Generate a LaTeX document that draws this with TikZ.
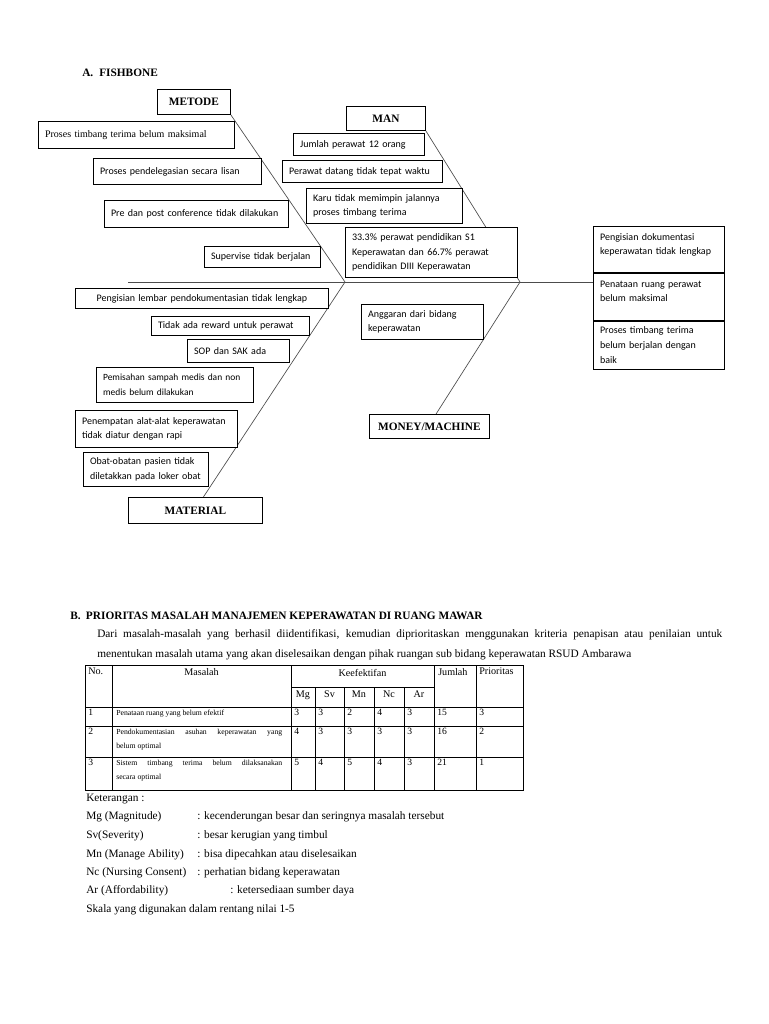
\documentclass[tikz,border=0pt]{standalone}
\usepackage{fontspec}
\setmainfont{Liberation Serif}
\newfontfamily\boxfont{Carlito}
\usetikzlibrary{positioning, backgrounds}
\newcommand\causefont{\boxfont\fontsize{7.5}{11}\selectfont}
\newcommand\liftlines{\\[-3pt]\mbox{}}

\begin{document}
\begin{tikzpicture}[x=0.75pt, y=-0.75pt,
    bone/.style={draw=black!70, line width=0.5pt},
    category/.style 2 args={draw, fill=white, line width=0.6pt, anchor=north west, inner sep=0pt,
        minimum width=#1*0.75pt, minimum height=#2*0.75pt, font=\bfseries\fontsize{8.5}{10}\selectfont},
    cause/.style 2 args={draw, fill=white, line width=0.6pt, anchor=north west, inner xsep=5pt, inner ysep=0pt,
        align=left, font=\causefont, minimum height=#2*0.75pt,
        /utils/exec={\pgfmathsetlengthmacro\causew{#1*0.75pt-10pt}}, text width=\causew},
    heading/.style={anchor=base west, inner sep=0pt, font=\bfseries\fontsize{8.5}{10}\selectfont},
    body/.style={anchor=base west, inner sep=0pt, font=\fontsize{8.5}{10}\selectfont},
    grid/.style={line width=0.6pt},
    cell/.style={anchor=north west, inner sep=0pt, font=\fontsize{7.2}{9}\selectfont},
    colhead/.style={anchor=north, inner sep=0pt, font=\fontsize{7.6}{9}\selectfont}]
    \useasboundingbox (0,0) rectangle (768,1024);

    \node[heading] (headA) at (82,76) {A.\hspace{4.5pt}FISHBONE};

    \node[category={73}{25}] (metode) at (157,89) {METODE};
    \node[category={79}{24}] (man) at (346,106) {MAN};
    \node[category={134}{26}] (material) at (128,497) {MATERIAL};
    \node[category={120}{24}] (money) at (369,414) {MONEY/MACHINE};

    \node[cause={196}{27}, font=\fontsize{7.5}{9}\selectfont] (m1) at (38,121) {Proses timbang terima belum maksimal};
    \node[cause={168}{26}] (m2) at (93,158) {Proses pendelegasian secara lisan};
    \node[cause={184}{27}] (m3) at (104,200) {Pre dan post conference tidak dilakukan};
    \node[cause={116}{21}] (m4) at (204,246) {Supervise tidak berjalan};

    \node[cause={131}{22}] (n1) at (293,133) {Jumlah perawat 12 orang};
    \node[cause={160}{22}] (n2) at (282,160) {Perawat datang tidak tepat waktu};
    \node[cause={156}{35}] (n3) at (306,188) {Karu tidak memimpin jalannya\\proses timbang terima};
    \node[cause={172}{50}] (n4) at (345,227) {33.3\% perawat pendidikan S1\\Keperawatan dan 66.7\% perawat\\pendidikan DIII Keperawatan};

    \node[cause={253}{20}, align=center] (t1) at (75,288) {Pengisian lembar pendokumentasian tidak lengkap};
    \node[cause={158}{19}] (t2) at (151,316) {Tidak ada reward untuk perawat};
    \node[cause={102}{23}] (t3) at (187,339) {SOP dan SAK ada};
    \node[cause={157}{35}, font=\boxfont\fontsize{7.1}{11}\selectfont] (t4) at (96,367) {Pemisahan sampah medis dan non\\medis belum dilakukan};
    \node[cause={162}{37}] (t5) at (75,410) {Penempatan alat-alat keperawatan\\tidak diatur dengan rapi};
    \node[cause={125}{34}] (t6) at (83,452) {Obat-obatan pasien tidak\\diletakkan pada loker obat};

    \node[cause={122}{35}] (g1) at (361,304) {Anggaran dari bidang\\keperawatan};

    \node[cause={131}{46}] (e1) at (593,226) {Pengisian dokumentasi\\keperawatan tidak lengkap\liftlines};
    \node[cause={131}{47}] (e2) at (e1.south west) {Penataan ruang perawat\\belum maksimal\liftlines};
    \node[cause={131}{48}] (e3) at (e2.south west) {Proses timbang terima\\belum berjalan dengan\\baik};

    \coordinate (tail) at (128,282);
    \coordinate (jm) at (345,282);
    \coordinate (jn) at (520,282);
    \begin{scope}[on background layer]
        \draw[bone] (tail) -- (tail -| e2.west);
        \draw[bone] (metode.south east) -- (jm) -- ([xshift=6pt]material.north);
        \draw[bone] (man.south east) -- (jn) -- ([xshift=5pt]money.north);
    \end{scope}

    \node[heading] (headB) at (70,619) {B.\hspace{4pt}PRIORITAS MASALAH MANAJEMEN KEPERAWATAN DI RUANG MAWAR};
    \node[body, text width=468.75pt, align=justify, font=\fontsize{8.5}{15}\selectfont] (intro) at (97,637)
        {Dari masalah-masalah yang berhasil diidentifikasi, kemudian diprioritaskan menggunakan kriteria penapisan atau penilaian untuk\linebreak menentukan masalah utama yang akan diselesaikan dengan pihak ruangan sub bidang keperawatan RSUD Ambarawa};

    \draw[grid] (85,665) rectangle (523,790);
    \foreach \y in {707,726,757} \draw[grid] (85,\y) -- (523,\y);
    \draw[grid] (291,687) -- (434,687);
    \foreach \x in {112,291,434,476} \draw[grid] (\x,665) -- (\x,790);
    \foreach \x in {315,344,374,404} \draw[grid] (\x,687) -- (\x,790);

    \node[cell, font=\fontsize{7.6}{9}\selectfont] (hno) at (88,668) {No.};
    \node[colhead] (hmas) at (201.5,668) {Masalah};
    \node[colhead] (hkef) at (362.5,669) {Keefektifan};
    \node[cell, font=\fontsize{7.6}{9}\selectfont] (hjml) at (438,668) {Jumlah};
    \node[cell, font=\fontsize{7.6}{9}\selectfont] (hpri) at (479,668) {Prioritas};
    \foreach \lbl/\cx in {Mg/303,Sv/329.5,Mn/359,Nc/389,Ar/419}
        \node[colhead] (h\lbl) at (\cx,691) {\lbl};

    \foreach \no/\y/\txt in {1/707/{Penataan ruang yang belum efektif},
            2/726/{Pendokumentasian asuhan keperawatan yang\linebreak belum optimal},
            3/757/{Sistem timbang terima belum dilaksanakan\linebreak secara optimal}} {
        \node[cell] (no\no) at (88,\y+2) {\no};
        \node[cell, text width=124.5pt, align=justify, font=\fontsize{5.8}{10.5}\selectfont] (mas\no) at (116,\y+3) {\txt};
    }
    \foreach \no/\y/\mg/\sv/\mn/\nc/\ar/\jml/\pri in {1/707/3/3/2/4/3/15/3, 2/726/4/3/3/3/3/16/2, 3/757/5/4/5/4/3/21/1} {
        \node[cell] (mg\no) at (294,\y+2) {\mg};
        \node[cell] (sv\no) at (318,\y+2) {\sv};
        \node[cell] (mn\no) at (347,\y+2) {\mn};
        \node[cell] (nc\no) at (377,\y+2) {\nc};
        \node[cell] (ar\no) at (407,\y+2) {\ar};
        \node[cell] (jml\no) at (437,\y+2) {\jml};
        \node[cell] (pri\no) at (479,\y+2) {\pri};
    }

    \node[body] (ket) at (86,801) {Keterangan :};
    \foreach \k/\lbl/\y/\xc/\desc in {
            a/{Mg (Magnitude)}/819/197/{kecenderungan besar dan seringnya masalah tersebut},
            b/{Sv(Severity)}/838/197/{besar kerugian yang timbul},
            c/{Mn (Manage Ability)}/857/197/{bisa dipecahkan atau diselesaikan},
            d/{Nc (Nursing Consent)}/875/197/{perhatian bidang keperawatan},
            e/{Ar (Affordability)}/893/230/{ketersediaan sumber daya}} {
        \node[body] (lbl\k) at (86,\y) {\lbl};
        \node[body] (desc\k) at (\xc,\y) {: \desc};
    }
    \node[body] (skala) at (86,912) {Skala yang digunakan dalam rentang nilai 1-5};
\end{tikzpicture}
\end{document}
